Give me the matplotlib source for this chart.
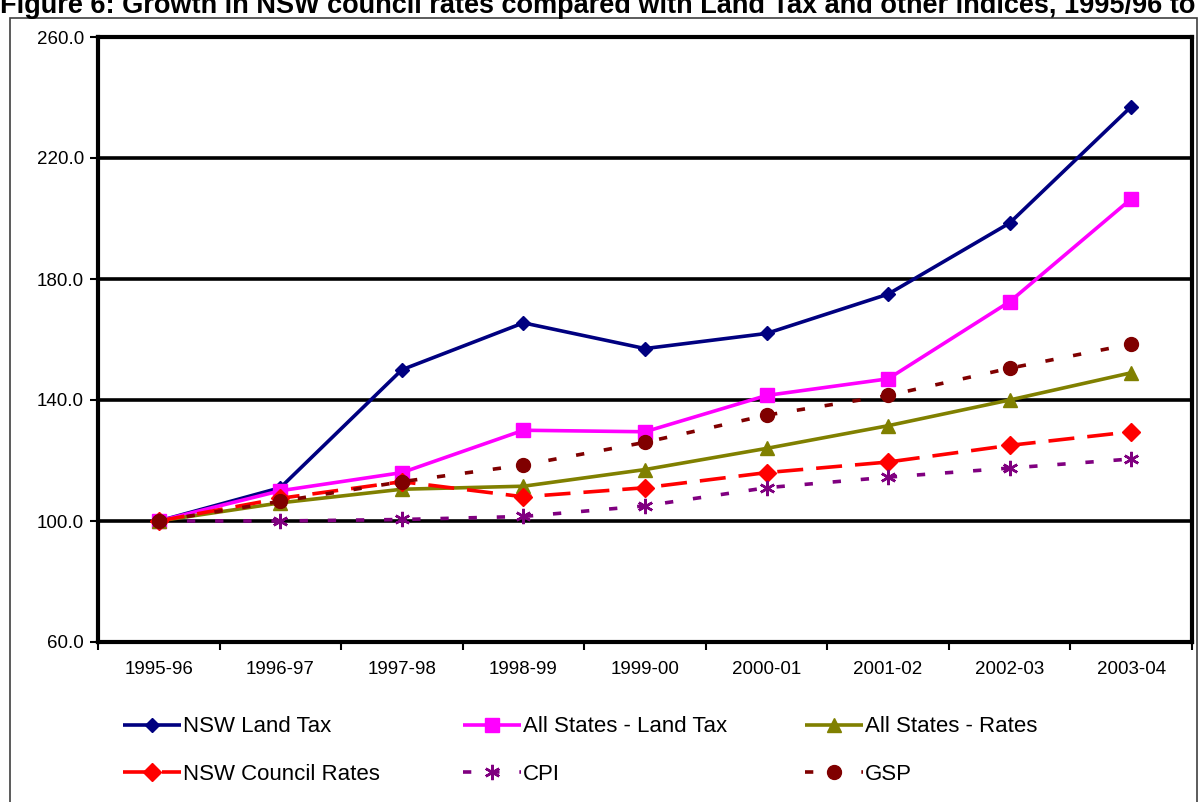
import matplotlib
matplotlib.use("Agg")
import matplotlib.pyplot as plt
from matplotlib.patches import Rectangle

plt.rcParams['font.family'] = ['Liberation Sans', 'DejaVu Sans']

# Financial years on the category axis
years = ["1995-96", "1996-97", "1997-98", "1998-99", "1999-00",
         "2000-01", "2001-02", "2002-03", "2003-04"]

# Index values (1995-96 = 100)
nsw_land_tax = [100, 111, 150, 165.5, 157, 162, 175, 198.5, 237]
all_states_land_tax = [100, 110, 116, 130, 129.5, 141.5, 147, 172.5, 206.5]
all_states_rates = [100, 106, 110.5, 111.5, 117, 124, 131.5, 140, 149]
nsw_council_rates = [100, 107.5, 113, 108, 111, 116, 119.5, 125, 129.5]
cpi = [100, 100, 100.5, 101.5, 105, 111, 114.5, 117.5, 120.5]
gsp = [100, 106.5, 113, 118.5, 126, 135, 141.5, 150.5, 158.5]

y_ticks = [60, 100, 140, 180, 220, 260]

title = ("Figure 6: Growth in NSW council rates compared with Land Tax "
         "and other indices, 1995/96 to 2003/04")

W, H = 1199, 802
fig = plt.figure(figsize=(W / 100, H / 100), dpi=100)
fig.patch.set_facecolor("white")

# Plot area in pixel terms
left, right, top, bottom = 98, 1192, 37, 642
ax = fig.add_axes([left / W, 1 - bottom / H, (right - left) / W, (bottom - top) / H])

x = list(range(len(years)))
LW = 2.6

series = [
    ("NSW Land Tax", nsw_land_tax, dict(color="#000080", marker="D", ms=7.5,
                                        ls="-")),
    ("All States - Land Tax", all_states_land_tax, dict(color="#FF00FF", marker="s",
                                                        ms=10, ls="-")),
    ("All States - Rates", all_states_rates, dict(color="#808000", marker="^",
                                                  ms=10, ls="-")),
    ("NSW Council Rates", nsw_council_rates, dict(color="#FF0000", marker="D",
                                                  ms=9, ls=(0, (7.2, 3.6)))),
    ("CPI", cpi, dict(color="#800080", marker=(6, 2, 0), ms=11, mew=1.8,
                      ls=(0, (2.3, 5.5)))),
    ("GSP", gsp, dict(color="#800000", marker="o", ms=10, ls=(0, (2.3, 5.5)))),
]

handles = []
for label, vals, st in series:
    kw = dict(st)
    kw.setdefault("mew", 1.0)
    (ln,) = ax.plot(x, vals, lw=LW, color=kw["color"], marker=kw["marker"],
                    markersize=kw["ms"], markeredgewidth=kw["mew"],
                    markeredgecolor=kw["color"], markerfacecolor=kw["color"],
                    linestyle=kw["ls"], label=label, zorder=3,
                    solid_capstyle="butt", dash_capstyle="butt")
    handles.append(ln)

ax.set_xlim(-0.5, len(years) - 0.5)
ax.set_ylim(60, 260)

# Category boundaries carry the tick marks, centres carry the labels
ax.set_xticks([i - 0.5 for i in range(len(years) + 1)])
ax.set_xticklabels([])
ax.set_xticks(x, minor=True)
ax.set_xticklabels(years, minor=True, fontsize=13.5)
ax.tick_params(axis="x", which="major", direction="out", length=6, width=1.5,
               color="black")
ax.tick_params(axis="x", which="minor", length=0, pad=14)

ax.set_yticks(y_ticks)
ax.set_yticklabels([f"{v:.1f}" for v in y_ticks], fontsize=13.5)
ax.tick_params(axis="y", direction="out", length=6, width=1.5, pad=4)

for v in y_ticks[1:-1]:
    ax.axhline(v, color="black", lw=2.6, zorder=1)

for s in ax.spines.values():
    s.set_linewidth(3)
    s.set_color("black")

# Legend: three columns, two rows, each entry placed individually
entries_pos = [(123, 727), (463, 727), (805, 727),
               (123, 774), (463, 774), (805, 774)]
fs = 16
px_per_em = fs * 100 / 72
for h, (px, py) in zip(handles, entries_pos):
    fig.legend(handles=[h], loc="center left",
               bbox_to_anchor=(px / W, 1 - py / H),
               frameon=False, fontsize=fs, borderpad=0, borderaxespad=0,
               handlelength=58 / px_per_em, handletextpad=0.08,
               numpoints=1)

# Outer frame around the chart
fig.add_artist(Rectangle((10 / W, -0.05), (1197 - 10) / W, 1 - 18 / H + 0.05,
                         transform=fig.transFigure, fill=False,
                         edgecolor="#404040", lw=1.2))

# Caption running along the top edge
fig.text(0.0, 1 - 13 / H, title, ha="left", va="baseline", fontsize=19.5,
         fontweight="bold")

fig.savefig("out.png", dpi=100, facecolor="white")
